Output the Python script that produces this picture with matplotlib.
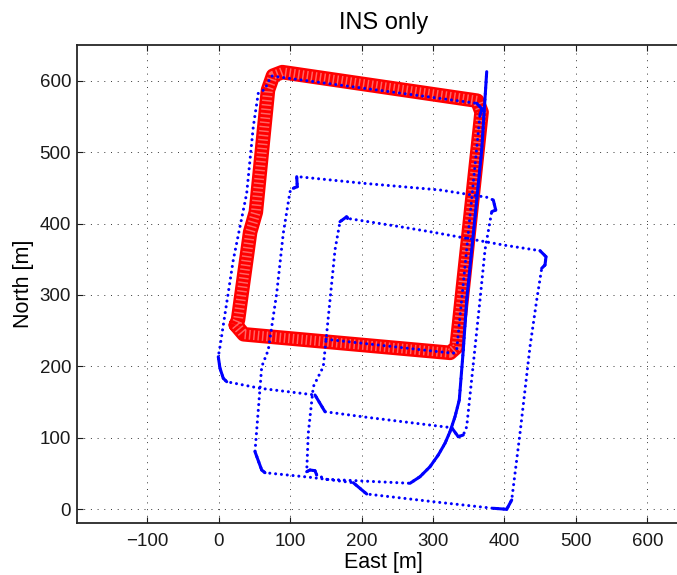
import matplotlib
matplotlib.use("Agg")
from matplotlib import pyplot as plt

plt.rcParams['font.family'] = ['Liberation Sans', 'DejaVu Sans']

# reference track (GPS), East / North in metres
ref_e = [24, 35, 324, 333, 368, 362, 89, 76, 69, 52, 44, 27, 24]
ref_n = [258, 245, 219, 227, 556, 572, 612, 607, 587, 416, 388, 265, 258]

# INS only track, East / North in metres
ins_e = [150.2, 328.4, 333.2, 365.8, 368.6, 361.2, 74.2, 69.4, 64.8, 55.4,
         48.4, 39.2, 20.4, 1.8, -0.6, 1.8, 6.4, 11.2, 57.8, 134.8,
         148.8, 207.2, 326.2, 335.4, 342.4, 347.2, 365.8, 372.8, 382.2, 387.8,
         384.4, 375.2, 309.8, 202.4, 111.4, 109.2, 110.0, 104.4, 99.8, 90.4,
         81.2, 69.4, 60.2, 50.8, 60.2, 64.8, 127.8, 188.4, 207.2, 300.4,
         384.4, 403.2, 410.2, 421.8, 435.8, 445.2, 452.2, 456.8, 458.2, 449.8,
         398.4, 295.8, 253.8, 179.2, 179.2, 169.8, 162.8, 151.2, 146.4, 132.4,
         125.4, 123.2, 127.8, 134.8, 137.2, 151.2, 267.8, 281.8, 295.8, 307.4,
         316.8, 323.8, 330.8, 336.8, 342.4, 347.2, 368.2, 375.2]
ins_n = [238.0, 218.4, 223.0, 552.0, 560.4, 568.4, 606.6, 598.6, 588.0, 582.4,
         535.6, 442.4, 349.0, 227.6, 213.6, 197.4, 183.4, 178.6, 169.4, 160.0,
         136.6, 128.8, 114.2, 101.6, 104.0, 115.6, 293.0, 363.0, 416.6, 419.0,
         433.0, 436.8, 447.0, 456.4, 465.6, 465.6, 451.6, 449.4, 444.6, 386.4,
         302.4, 223.0, 199.6, 80.6, 55.0, 51.2, 44.8, 37.2, 21.4, 10.6,
         1.4, 0.0, 13.0, 106.4, 227.6, 293.0, 337.4, 342.0, 353.6, 362.0,
         370.0, 388.6, 395.6, 407.4, 409.6, 402.6, 363.0, 246.4, 199.6, 171.6,
         106.4, 52.6, 55.0, 54.0, 48.0, 42.0, 36.4, 45.6, 59.6, 76.0,
         92.4, 108.6, 129.6, 153.0, 223.0, 293.0, 503.0, 612.6]
# segments where the vehicle was slow (dense samples -> solid)
slow = [3, 4, 14, 15, 16, 19, 22, 23, 28, 29, 35, 36, 43, 44, 47, 50, 51,
        56, 57, 58, 63, 64, 71, 72, 73] + list(range(76, 87))

W, H = 677, 575
fig = plt.figure(figsize=(W / 100, H / 100), dpi=100)
ax = fig.add_axes([76.7 / W, 52 / H, (690 - 76.7) / W, (523 - 44.7) / H])

# red circles band
ax.plot(ref_e, ref_n, color='r', lw=10.5, solid_joinstyle='round',
        solid_capstyle='round')
ax.plot(ref_e, ref_n, color='white', lw=7, alpha=0.4,
        linestyle=(0, (0.15, 0.3)), dash_capstyle='butt')

# INS dots
ax.plot(ins_e, ins_n, color='b', lw=2.2, linestyle=(0, (0.01, 1.9)),
        dash_capstyle='round')
for i in slow:
    ax.plot(ins_e[i:i + 2], ins_n[i:i + 2], color='b', lw=2.2,
            solid_capstyle='round', solid_joinstyle='round')

ax.set_xlim(-198.8, 659.8)
ax.set_ylim(-19.2, 650.4)
ax.set_xticks(range(-100, 601, 100))
ax.set_yticks(range(0, 601, 100))
ax.grid(True, color='0.25', lw=0.72, linestyle=(0, (1, 5.7)))
ax.tick_params(direction='in', length=4.3, width=0.8, top=True, right=True,
               labelsize=13.5, colors='0.1')
ax.tick_params(axis='x', pad=7.5)
ax.tick_params(axis='y', pad=4)
for s in ax.spines.values():
    s.set_linewidth(1.3)
    s.set_color('0.15')

ax.set_xlabel('East [m]', fontsize=15.5, labelpad=1)
ax.set_ylabel('North [m]', fontsize=15.5, labelpad=4)
ax.set_title('INS only', fontsize=17, pad=11.5)

fig.savefig('out.png', dpi=100)
